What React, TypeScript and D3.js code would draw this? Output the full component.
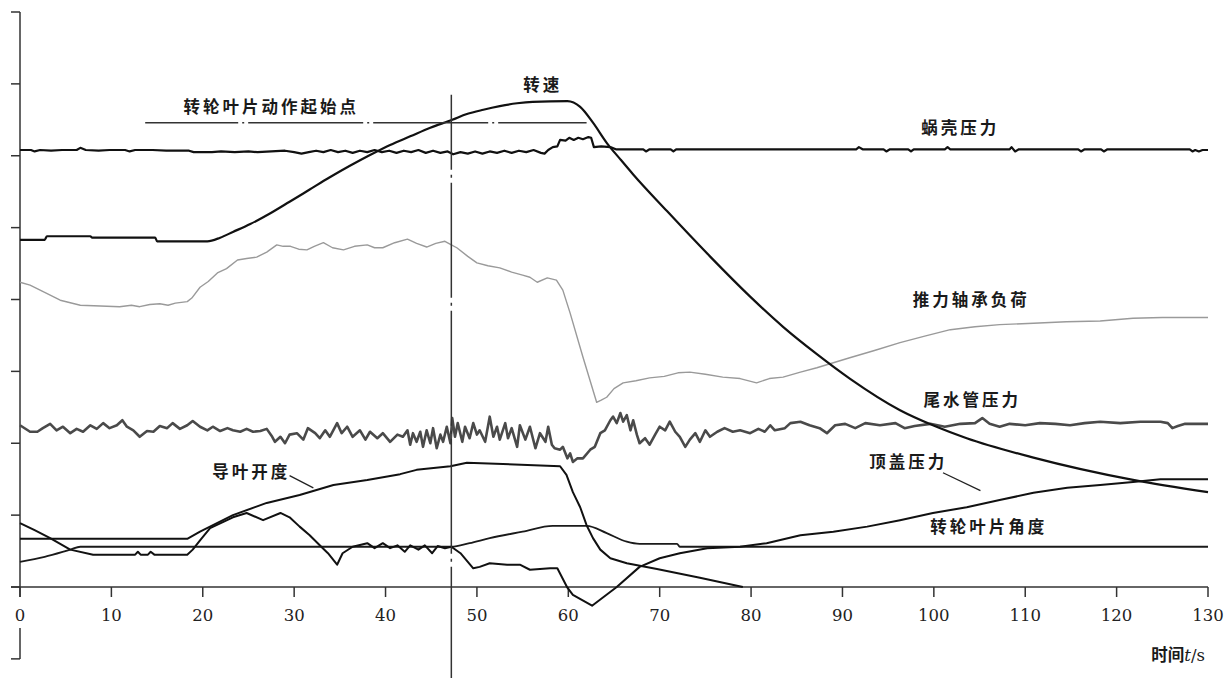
import React from 'react';
import * as d3 from 'd3';

// ---------- data (t in s, v in axis divisions) ----------
const xTickValues = [0, 10, 20, 30, 40, 50, 60, 70, 80, 90, 100, 110, 120, 130];
const yTickValues = [-1, 0, 1, 2, 3, 4, 5, 6, 7, 8];

const speed: [number, number][] = [
  [0, 4.83], [2.7, 4.83], [2.95, 4.88], [7.7, 4.88], [7.9, 4.86], [14.8, 4.86], [15.0, 4.81], [20.5, 4.81],
  [21.9, 4.86], [23.3, 4.94], [25.2, 5.05], [27.4, 5.2], [29.5, 5.36], [31.7, 5.53], [33.9, 5.7],
  [36.1, 5.86], [38.3, 6.01], [40.5, 6.15], [42.7, 6.27], [44.9, 6.39], [47.3, 6.5], [48.9, 6.58],
  [50.7, 6.64], [52.5, 6.69], [54.4, 6.73], [56.1, 6.75], [59.9, 6.76], [61.3, 6.68], [62.7, 6.46],
  [64.2, 6.18], [65.7, 5.95], [67.1, 5.74], [70.8, 5.23], [75.5, 4.6], [79.9, 4.04], [83.5, 3.62],
  [87.2, 3.24], [90.8, 2.9], [96.3, 2.46], [99.9, 2.25], [103.6, 2.07], [110.9, 1.8], [121.8, 1.49],
  [130, 1.32],
];

const casePressure: [number, number][] = [
  [0, 6.08], [1.2, 6.08], [1.6, 6.06], [2.2, 6.08], [3.4, 6.07], [4.6, 6.08], [6.2, 6.08], [6.6, 6.11],
  [7.2, 6.08], [8.6, 6.07], [9.8, 6.08], [11.5, 6.08], [12, 6.06], [12.6, 6.08], [14.5, 6.08], [16, 6.07],
  [18.5, 6.07], [19, 6.05], [21, 6.05], [22, 6.06], [23.5, 6.05], [25, 6.06], [26, 6.05], [27.5, 6.06],
  [29, 6.07], [30, 6.05], [30.8, 6.03], [31.6, 6.05], [32.4, 6.07], [33.2, 6.05], [34, 6.08], [34.8, 6.05],
  [35.6, 6.07], [36.4, 6.04], [37.2, 6.07], [38, 6.05], [38.8, 6.08], [39.6, 6.05], [40.4, 6.07],
  [41.2, 6.04], [42, 6.07], [42.8, 6.05], [43.6, 6.08], [44.4, 6.04], [45.2, 6.07], [46, 6.04],
  [46.8, 6.06], [47.4, 6.02], [48.2, 6.05], [49, 6.03], [49.8, 6.06], [50.6, 6.03], [51.4, 6.06],
  [52.2, 6.04], [53, 6.07], [53.8, 6.04], [54.6, 6.07], [55.4, 6.05], [56.2, 6.08], [57, 6.04],
  [57.4, 6.03], [57.8, 6.08], [58.3, 6.12], [58.8, 6.13], [59.1, 6.22], [59.7, 6.21], [60.1, 6.25],
  [60.6, 6.22], [61.1, 6.25], [61.6, 6.23], [62.2, 6.26], [62.5, 6.25], [62.8, 6.12], [63.6, 6.13],
  [64.6, 6.12], [65.2, 6.09], [68.2, 6.09], [68.5, 6.06], [68.9, 6.09], [71.2, 6.09], [71.5, 6.06],
  [71.8, 6.09], [91.5, 6.09], [91.8, 6.12], [92.2, 6.09], [94.5, 6.09], [94.8, 6.06], [95.2, 6.09],
  [97.2, 6.09], [97.5, 6.06], [97.8, 6.09], [101.2, 6.09], [101.5, 6.12], [101.8, 6.09], [108.3, 6.09],
  [108.5, 6.12], [108.9, 6.06], [109.3, 6.09], [115.8, 6.09], [116.1, 6.06], [116.5, 6.09], [118.3, 6.09],
  [118.6, 6.06], [119, 6.09], [128, 6.09], [128.3, 6.06], [128.6, 6.08], [129, 6.06], [129.4, 6.08],
  [130, 6.08],
];

const thrustLoad: [number, number][] = [
  [0, 4.24], [1.1, 4.2], [2.7, 4.1], [4.4, 3.99], [6.6, 3.92], [8.8, 3.91], [10.9, 3.9], [12.2, 3.92],
  [13.1, 3.9], [14.2, 3.93], [15.3, 3.94], [16.2, 3.92], [17.0, 3.95], [18.3, 3.97], [18.8, 4.02],
  [19.7, 4.17], [20.6, 4.25], [21.6, 4.37], [22.6, 4.43], [23.8, 4.55], [24.8, 4.57], [25.9, 4.59],
  [27.0, 4.66], [28.1, 4.76], [28.8, 4.74], [29.6, 4.74], [30.5, 4.7], [31.4, 4.69], [32.2, 4.74],
  [33.2, 4.79], [34.2, 4.72], [35.4, 4.69], [36.6, 4.74], [38.0, 4.76], [38.8, 4.72], [39.7, 4.72],
  [41.0, 4.79], [42.4, 4.84], [43.4, 4.78], [44.5, 4.73], [45.5, 4.78], [46.5, 4.81], [47.2, 4.76],
  [47.8, 4.72], [49.0, 4.6], [50.0, 4.51], [51.2, 4.47], [52.5, 4.44], [53.8, 4.38], [55.0, 4.34],
  [55.8, 4.31], [56.6, 4.24], [57.7, 4.3], [58.7, 4.27], [59.4, 4.13], [60.2, 3.81], [61.6, 3.2],
  [63.1, 2.57], [63.6, 2.6], [64.2, 2.64], [65.0, 2.76], [66.0, 2.84], [67.4, 2.87], [68.9, 2.91],
  [70.5, 2.93], [72.0, 2.98], [73.3, 2.99], [75.0, 2.96], [76.9, 2.92], [78.8, 2.9], [80.6, 2.84],
  [82.0, 2.9], [83.5, 2.92], [85.4, 2.99], [87.2, 3.05], [89.0, 3.12], [90.8, 3.19], [93.5, 3.29],
  [96.3, 3.4], [99.0, 3.49], [101.8, 3.58], [104.5, 3.62], [107.2, 3.65], [110.9, 3.67], [114.5, 3.69],
  [118.2, 3.7], [121.8, 3.74], [125.0, 3.75], [130, 3.75],
];

const draftTube: [number, number][] = [
  [0, 2.25], [1.1, 2.16], [1.9, 2.16], [2.5, 2.21], [3.3, 2.27], [4.0, 2.18], [4.7, 2.23], [5.5, 2.14],
  [6.2, 2.2], [6.9, 2.16], [7.7, 2.25], [8.4, 2.2], [9.1, 2.28], [9.8, 2.21], [10.6, 2.25], [11.2, 2.32],
  [11.7, 2.23], [12.4, 2.18], [13.1, 2.09], [13.9, 2.17], [14.6, 2.16], [15.3, 2.24], [16.1, 2.21],
  [16.7, 2.28], [17.5, 2.2], [18.3, 2.25], [18.9, 2.31], [19.7, 2.23], [20.5, 2.18], [21.1, 2.23],
  [21.9, 2.17], [22.7, 2.21], [23.3, 2.18], [24.1, 2.16], [24.8, 2.2], [25.5, 2.16], [26.3, 2.17],
  [27.0, 2.2], [27.6, 2.09], [27.9, 2.02], [28.5, 2.09], [29.0, 2.0], [29.5, 2.12], [30.3, 2.14],
  [31.0, 2.05], [31.5, 2.21], [32.3, 2.14], [32.8, 2.07], [33.4, 2.18], [33.9, 2.09], [34.7, 2.28],
  [35.2, 2.14], [35.8, 2.23], [36.4, 2.09], [37.2, 2.18], [37.8, 2.05], [38.3, 2.16], [39.1, 2.07],
  [39.7, 2.14], [40.5, 2.02], [41.3, 2.12],
  [41.9, 2.09], [42.4, 2.18], [42.7, 1.98], [43.0, 2.14], [43.4, 2.02], [43.8, 2.16], [44.1, 1.95],
  [44.5, 2.18], [44.9, 2.0], [45.2, 2.21], [45.6, 1.93], [46.0, 2.12], [46.3, 2.02], [46.7, 2.23],
  [47.1, 2.0], [47.3, 2.35], [47.6, 2.09], [47.9, 2.28], [48.4, 2.02], [48.7, 2.23], [49.2, 2.07],
  [49.6, 2.28], [50.0, 2.12], [50.3, 2.18], [50.9, 2.02], [51.4, 2.37], [51.8, 2.09], [52.2, 2.23],
  [52.5, 2.05], [53.1, 2.28], [53.4, 2.07], [53.8, 2.21], [54.4, 1.95], [54.7, 2.25], [55.3, 2.05],
  [55.8, 2.23], [56.4, 1.93], [56.9, 2.14], [57.5, 2.02], [57.8, 2.23], [58.2, 1.98], [58.5, 1.93],
  [59.1, 1.91], [59.4, 1.95], [59.9, 1.79], [60.2, 1.86], [60.5, 1.74], [61.0, 1.79], [61.6, 1.79],
  [62.4, 1.91], [62.9, 1.95], [63.5, 2.14], [64.0, 2.18], [64.6, 2.32], [64.9, 2.37], [65.3, 2.28],
  [65.7, 2.42], [66.0, 2.3], [66.4, 2.39], [66.8, 2.18], [67.1, 2.32], [67.5, 2.12], [67.8, 2.0],
  [68.4, 2.07], [68.9, 1.98], [69.5, 2.12], [70.0, 2.23], [70.6, 2.18], [71.1, 2.3], [71.7, 2.16],
  [72.2, 2.09], [72.8, 1.95], [73.3, 2.05], [73.9, 2.14], [74.4, 2.02], [75.0, 2.18], [75.5, 2.09],
  [76.3, 2.16], [77.1, 2.21], [78.0, 2.16], [78.8, 2.18], [79.9, 2.14], [80.8, 2.2], [81.5, 2.16],
  [82.1, 2.25], [82.6, 2.18], [83.7, 2.21], [84.3, 2.28], [85.4, 2.3],
  [86.4, 2.25], [87.5, 2.21], [88.3, 2.14], [89.2, 2.25], [90.3, 2.27], [91.4, 2.21], [92.5, 2.28],
  [94.1, 2.25], [95.8, 2.28], [96.8, 2.21], [97.9, 2.24], [99.6, 2.27], [101.2, 2.23], [102.9, 2.27],
  [104.5, 2.28], [105.3, 2.35], [106.1, 2.27], [107.2, 2.23], [108.3, 2.27], [110.0, 2.25], [111.6, 2.28],
  [113.3, 2.27], [114.9, 2.25], [116.5, 2.28], [118.2, 2.3], [120.4, 2.28], [122.6, 2.3], [124.8, 2.3],
  [125.6, 2.28], [126.1, 2.21], [126.7, 2.24], [127.5, 2.27], [130, 2.27],
];

const guideVane: [number, number][] = [
  [0, 0.67], [18.3, 0.67], [19.7, 0.77], [23.3, 1.0], [27.0, 1.17], [30.6, 1.28], [34.3, 1.42],
  [38.0, 1.49], [41.6, 1.57], [43.4, 1.63], [47.1, 1.68], [48.9, 1.73], [59.1, 1.68], [59.8, 1.56],
  [60.5, 1.32], [61.3, 1.11], [62.0, 0.86], [62.7, 0.68], [63.5, 0.52], [64.6, 0.4], [66.4, 0.33],
  [69.7, 0.25], [74.4, 0.13], [79.1, 0],
];

const headCover: [number, number][] = [
  [0, 0.89], [1.6, 0.79], [3.3, 0.68], [5.5, 0.52], [8.0, 0.45], [12.6, 0.45], [12.9, 0.49], [13.2, 0.45],
  [14.0, 0.45], [14.3, 0.49], [14.7, 0.45], [18.3, 0.45], [18.9, 0.52], [19.7, 0.65], [20.8, 0.82],
  [23.3, 0.97], [24.8, 1.03], [26.6, 0.93], [28.5, 1.03], [29.5, 0.97], [30.6, 0.84], [31.7, 0.72],
  [32.8, 0.58], [33.7, 0.47], [34.7, 0.31], [35.3, 0.47], [36.4, 0.56], [38.0, 0.61], [38.8, 0.54],
  [39.7, 0.61], [40.5, 0.54], [41.3, 0.58], [42.1, 0.49], [42.7, 0.58], [43.6, 0.52], [44.3, 0.58],
  [45.1, 0.47], [45.7, 0.57], [46.5, 0.54], [47.2, 0.56], [48.2, 0.47], [49.6, 0.26], [50.3, 0.28],
  [51.4, 0.33], [53.3, 0.31], [54.7, 0.31], [55.8, 0.24], [58.0, 0.26], [58.8, 0.26], [59.9, -0.01],
  [60.5, -0.11], [62.6, -0.26], [65.3, 0], [67.8, 0.28], [70.0, 0.4], [72.2, 0.47], [75.2, 0.54],
  [78.8, 0.56], [81.7, 0.61], [85.4, 0.72], [89.0, 0.77], [92.7, 0.84], [96.3, 0.93], [99.9, 1.03],
  [103.6, 1.11], [107.2, 1.21], [110.9, 1.31], [114.6, 1.38], [118.2, 1.42], [121.8, 1.46],
  [124.8, 1.5], [130, 1.5],
];

const bladeAngle: [number, number][] = [
  [0, 0.35], [2.7, 0.42], [5.5, 0.52], [6.6, 0.56], [47.2, 0.56], [49.2, 0.61], [51.4, 0.68],
  [55.0, 0.77], [58.3, 0.85], [62.0, 0.85], [64.2, 0.75], [66.4, 0.63], [67.8, 0.6], [71.9, 0.6],
  [72.2, 0.56], [130, 0.56],
];

// annotation: blade action start (time), marker line level/extent
const startTime = 47.2;
const startLineLevel = 6.46;
const startLineFrom = 13.7;
const startLineTo = 62.0;

const labels = [
  { text: '转轮叶片动作起始点', t: 27.5, v: 6.6 },
  { text: '转速', t: 57.2, v: 6.9 },
  { text: '蜗壳压力', t: 102.9, v: 6.3 },
  { text: '推力轴承负荷', t: 104.1, v: 3.91 },
  { text: '尾水管压力', t: 104.2, v: 2.52 },
  { text: '顶盖压力', t: 97.2, v: 1.66 },
  { text: '转轮叶片角度', t: 106.0, v: 0.75 },
  { text: '导叶开度', t: 25.3, v: 1.52 },
];
const leaders = [
  [[29.5, 1.55], [32.1, 1.38]],
  [[101.0, 1.59], [105.1, 1.34]],
];

// ---------- component ----------
const W = 1226;
const H = 678;

export default function App() {
  const x = d3.scaleLinear().domain([0, 130]).range([20, 1208]);
  const y = d3.scaleLinear().domain([-1, 8]).range([658.875, 12]);
  const line = d3.line<[number, number]>().x((d) => x(d[0])).y((d) => y(d[1]));
  const smooth = d3
    .line<[number, number]>()
    .x((d) => x(d[0]))
    .y((d) => y(d[1]))
    .curve(d3.curveMonotoneX);
  const cjk = '"Noto Sans CJK SC", "Noto Sans CJK JP", sans-serif';
  const serif = '"DejaVu Serif", "Liberation Serif", serif';
  const axisColor = '#333';
  const y0 = y(0);

  return (
    <svg
      width={W}
      height={H}
      style={{ position: 'absolute', left: 0, top: 0, background: '#fff' }}
    >
      <rect x={0} y={0} width={W} height={H} fill="#fff" />

      {/* y axis (broken around "0" label) */}
      <line x1={x(0)} x2={x(0)} y1={y(8)} y2={y0 + 10} stroke={axisColor} strokeWidth={1.5} />
      <line x1={x(0)} x2={x(0)} y1={y0 + 41} y2={y(-1)} stroke={axisColor} strokeWidth={1.5} />
      {yTickValues.map((v) => (
        <line key={'yt' + v} x1={x(0) - 9} x2={x(0)} y1={y(v)} y2={y(v)} stroke={axisColor} strokeWidth={1.5} />
      ))}

      {/* x axis */}
      <line x1={x(0) - 9} x2={x(130)} y1={y0} y2={y0} stroke={axisColor} strokeWidth={1.5} />
      {xTickValues.map((t) => (
        <g key={'xt' + t}>
          <line x1={x(t)} x2={x(t)} y1={y0} y2={y0 + 10} stroke={axisColor} strokeWidth={1.5} />
          <text
            x={x(t)}
            y={y0 + 34}
            textAnchor="middle"
            fontFamily={serif}
            fontSize={16.5}
            fill="#222"
          >
            {t}
          </text>
        </g>
      ))}

      {/* series */}
      <path d={line(thrustLoad) || ''} fill="none" stroke="#9a9a9a" strokeWidth={1.4} strokeLinejoin="round" />
      <path d={line(draftTube) || ''} fill="none" stroke="#4a4a4a" strokeWidth={2.6} strokeLinejoin="round" />
      <path d={smooth(bladeAngle) || ''} fill="none" stroke="#1a1a1a" strokeWidth={1.8} strokeLinejoin="round" />
      <path d={line(guideVane) || ''} fill="none" stroke="#111" strokeWidth={2} strokeLinejoin="round" />
      <path d={line(headCover) || ''} fill="none" stroke="#111" strokeWidth={2} strokeLinejoin="round" />
      <path d={line(casePressure) || ''} fill="none" stroke="#111" strokeWidth={2.2} strokeLinejoin="round" />
      <path d={smooth(speed) || ''} fill="none" stroke="#111" strokeWidth={2.2} strokeLinejoin="round" />

      {/* start-of-blade-action marker lines */}
      <line
        x1={x(startLineFrom)}
        x2={x(startLineTo)}
        y1={y(startLineLevel)}
        y2={y(startLineLevel)}
        stroke="#333"
        strokeWidth={1.5}
        strokeDasharray="115 4 2 4"
        strokeDashoffset={22}
      />
      <line
        x1={x(startTime)}
        x2={x(startTime)}
        y1={y(6.85)}
        y2={H}
        stroke="#333"
        strokeWidth={1.5}
        strokeDasharray="115 5 3 5"
        strokeDashoffset={40}
      />

      {/* leaders */}
      {leaders.map((l, i) => (
        <line
          key={'ld' + i}
          x1={x(l[0][0])}
          y1={y(l[0][1])}
          x2={x(l[1][0])}
          y2={y(l[1][1])}
          stroke="#222"
          strokeWidth={1.3}
        />
      ))}

      {/* labels */}
      {labels.map((lb) => (
        <text
          key={lb.text}
          x={x(lb.t)}
          y={y(lb.v)}
          textAnchor="middle"
          fontFamily={cjk}
          fontWeight={700}
          fontSize={16.5}
          letterSpacing={3}
          fill="#1a1a1a"
        >
          {lb.text}
        </text>
      ))}

      {/* axis title */}
      <text x={1205} y={661} textAnchor="end" fill="#1a1a1a" fontSize={16.5}>
        <tspan fontFamily={cjk} fontWeight={700}>时间</tspan>
        <tspan fontFamily={serif} fontStyle="italic">t</tspan>
        <tspan fontFamily={serif}>/s</tspan>
      </text>
    </svg>
  );
}
